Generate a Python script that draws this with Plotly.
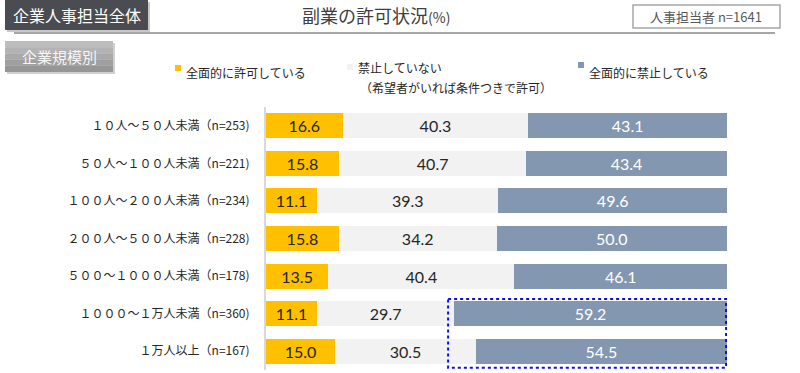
import plotly.graph_objects as go

categories = [
    "１０人～５０人未満（n=253)",
    "５０人～１００人未満（n=221)",
    "１００人～２００人未満（n=234)",
    "２００人～５００人未満（n=228)",
    "５００～１０００人未満（n=178)",
    "１０００～１万人未満（n=360)",
    "１万人以上（n=167)",
]
permit_all = [16.6, 15.8, 11.1, 15.8, 13.5, 11.1, 15.0]
not_prohibited = [40.3, 40.7, 39.3, 34.2, 40.4, 29.7, 30.5]
prohibit_all = [43.1, 43.4, 49.6, 50.0, 46.1, 59.2, 54.5]

series_names = ["全面的に許可している", "禁止していない", "全面的に禁止している"]
colors = ["#FFC000", "#F2F2F2", "#8497B0"]
text_colors = ["#262626", "#262626", "#FFFFFF"]

W, H = 800, 373
L, R, T, B = 266, 73, 107, 3
PW, PH = W - L - R, H - T - B

def px(x):
    return (x - L) / PW

def py(y):
    return (H - B - y) / PH

JP = "Noto Sans CJK JP"
NUM = "Lato"

fig = go.Figure()
for vals, name, col, tcol in zip([permit_all, not_prohibited, prohibit_all], series_names, colors, text_colors):
    fig.add_trace(go.Bar(
        y=categories, x=vals, orientation="h", name=name,
        marker=dict(color=col, line=dict(width=0)),
        text=[f"{v:.1f}" for v in vals], textposition="inside",
        insidetextanchor="middle", constraintext="none",
        textfont=dict(family=NUM, size=16, color=tcol),
        showlegend=False, hoverinfo="skip",
    ))

fig.update_layout(
    width=W, height=H, barmode="stack", bargap=0.335,
    margin=dict(l=L, r=R, t=T, b=B, pad=0),
    plot_bgcolor="white", paper_bgcolor="white",
    font=dict(family=JP, color="#262626"),
    xaxis=dict(range=[0, 100], visible=False, fixedrange=True),
    yaxis=dict(autorange="reversed", showline=True, linecolor="#D9D9D9", linewidth=2,
               ticks="", showgrid=False, ticklabelstandoff=12, fixedrange=True,
               tickfont=dict(family=JP, size=12, color="#262626")),
)

shapes = []
annotations = []

# header dark box with shadow
shapes.append(dict(type="rect", xref="paper", yref="paper", x0=px(7), x1=px(150), y0=py(32), y1=py(2),
                   fillcolor="#C8C8C8", line=dict(width=0), layer="above"))
shapes.append(dict(type="rect", xref="paper", yref="paper", x0=px(5), x1=px(148), y0=py(30), y1=py(0),
                   fillcolor="#4A4C52", line=dict(width=0), layer="above"))
annotations.append(dict(xref="paper", yref="paper", x=px(76.5), y=py(15), text="企業人事担当全体",
                        showarrow=False, font=dict(family=JP, size=16, color="white"),
                        xanchor="center", yanchor="middle"))
# separator line
shapes.append(dict(type="line", xref="paper", yref="paper", x0=px(14), x1=px(775), y0=py(33), y1=py(33),
                   line=dict(color="#A6A6A6", width=2)))
# sub-header gray box
shapes.append(dict(type="rect", xref="paper", yref="paper", x0=px(7), x1=px(115), y0=py(74), y1=py(43),
                   fillcolor="#D0D0D0", line=dict(width=0)))
bands = ["#BDBDBD", "#B3B3B3", "#A9A9A9", "#9F9F9F", "#969696"]
top, bot = 41, 72
step = (bot - top) / len(bands)
for i, c in enumerate(bands):
    shapes.append(dict(type="rect", xref="paper", yref="paper", x0=px(5), x1=px(113),
                       y0=py(top + (i + 1) * step), y1=py(top + i * step),
                       fillcolor=c, line=dict(width=0)))
annotations.append(dict(xref="paper", yref="paper", x=px(59), y=py(56), text="企業規模別",
                        showarrow=False, font=dict(family=JP, size=15, color="#F5F5F5"),
                        xanchor="center", yanchor="middle"))
# title
annotations.append(dict(xref="paper", yref="paper", x=px(376), y=py(15),
                        text='副業の許可状況<span style="font-size:14px">(%)</span>',
                        showarrow=False, font=dict(family=JP, size=18, color="#404040"),
                        xanchor="center", yanchor="middle"))
# n box
shapes.append(dict(type="rect", xref="paper", yref="paper", x0=px(633), x1=px(780), y0=py(28), y1=py(5),
                   fillcolor="white", line=dict(color="#A6A6A6", width=1.5)))
annotations.append(dict(xref="paper", yref="paper", x=px(706), y=py(16.5), text="人事担当者 n=1641",
                        showarrow=False, font=dict(family=JP, size=13, color="#595959"),
                        xanchor="center", yanchor="middle"))

# legend
legend_items = [
    (175, 65, series_names[0], 184, 72),
    (347, 64, series_names[1], 356, 67),
    (578, 62, series_names[2], 587, 72),
]
for (sx, sy, label, tx, ty), col in zip(legend_items, colors):
    shapes.append(dict(type="rect", xref="paper", yref="paper", x0=px(sx), x1=px(sx + 6),
                       y0=py(sy + 6), y1=py(sy), fillcolor=col, line=dict(width=0)))
    annotations.append(dict(xref="paper", yref="paper", x=px(tx), y=py(ty), text=label,
                            showarrow=False, font=dict(family=JP, size=12, color="#262626"),
                            xanchor="left", yanchor="middle"))
annotations.append(dict(xref="paper", yref="paper", x=px(358), y=py(87), text="（希望者がいれば条件つきで許可）",
                        showarrow=False, font=dict(family=JP, size=12, color="#262626"),
                        xanchor="left", yanchor="middle"))

# dotted highlight box around the last two "prohibit" bars
start6 = permit_all[5] + not_prohibited[5]
shapes.append(dict(type="rect", xref="x", yref="y", x0=start6 - 1.3, x1=99.8,
                   y0=len(categories) - 2 - 0.39, y1=len(categories) - 1 + 0.44,
                   line=dict(color="#0A0AFF", width=2, dash="dot"), fillcolor="rgba(0,0,0,0)",
                   layer="above"))

fig.update_layout(shapes=shapes, annotations=annotations)
fig.write_html("out.html", config={"displayModeBar": False, "staticPlot": True},
               post_script="document.body.style.margin='0';document.body.style.overflow='hidden';")
